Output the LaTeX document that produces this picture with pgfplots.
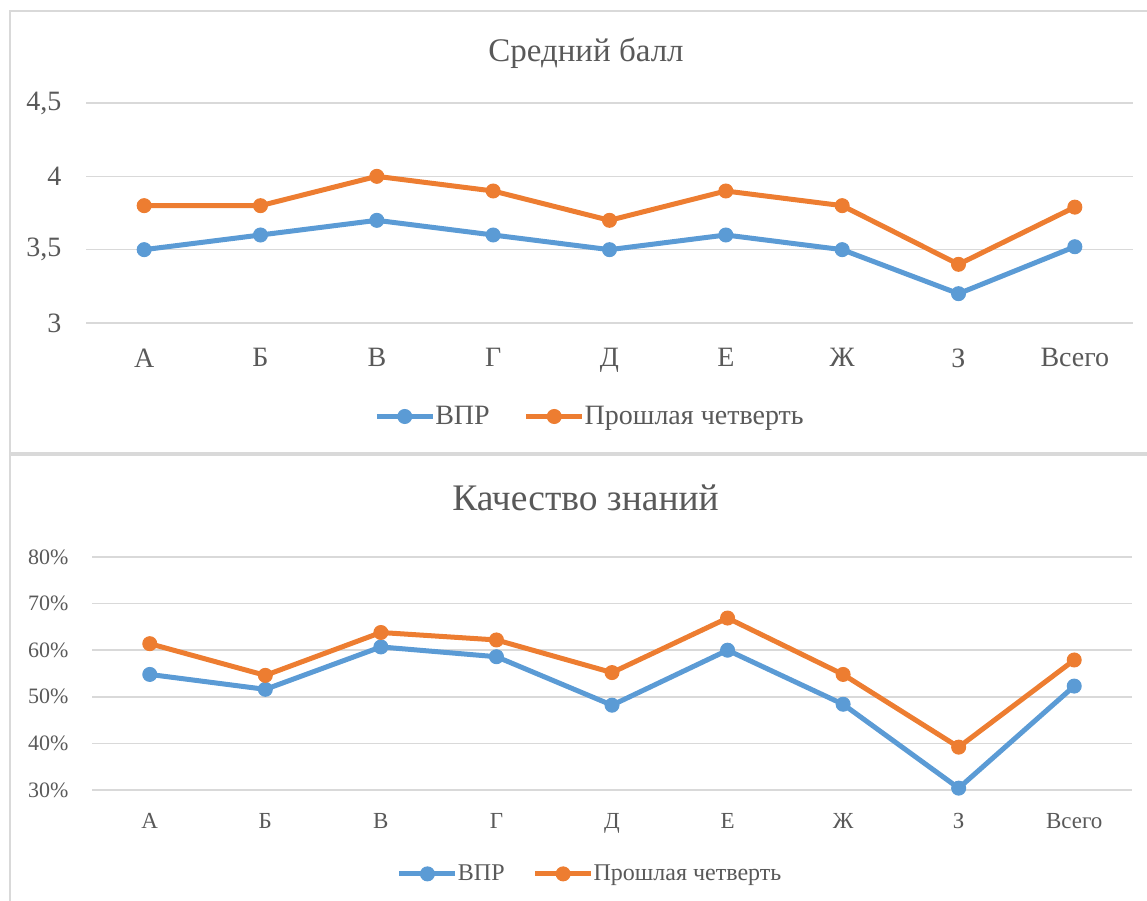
\documentclass[border=0pt]{standalone}
\usepackage{fontspec}
\setmainfont{Liberation Serif}
\usepackage{pgfplots}
\pgfplotsset{compat=1.18}
\definecolor{cblue}{HTML}{5B9BD5}
\definecolor{corange}{HTML}{ED7D31}
\definecolor{ctext}{HTML}{595959}
\definecolor{cgrid}{HTML}{D9D9D9}
\pgfplotsset{
 mystyle/.style={
  scale only axis,
  xmin=-0.5, xmax=8.5,
  xtick={0,...,8},
  xticklabels={А,Б,В,Г,Д,Е,Ж,З,Всего},
  axis line style={draw=none},
  major tick length=0pt,
  ymajorgrids, grid style={cgrid, line width=1.5pt},
  tick label style={text=ctext},
  /pgf/number format/assume math mode=true,
  clip=false,
  legend columns=2,
  legend style={draw=none, fill=none, text=ctext, anchor=center,
    nodes={inner sep=0pt}},
  legend image code/.code={\draw[mark repeat=2,mark phase=2] plot coordinates {(0pt,0pt)(28pt,0pt)(56pt,0pt)};},
 },
 sblue/.style={cblue, line width=5pt, mark=*, mark size=7pt, mark options={solid, line width=1pt}},
 sorange/.style={corange, line width=5pt, mark=*, mark size=7pt, mark options={solid, line width=1pt}},
}
\begin{document}
\begin{tikzpicture}[x=1pt,y=1pt]
\path[use as bounding box] (0,0) rectangle (1147,900);
\draw[cgrid, line width=2pt] (1160,889.3) -- (9.5,889.3) -- (9.5,447.3) -- (1160,447.3);
\draw[cgrid, line width=2pt] (1160,444.7) -- (9.5,444.7) -- (9.5,-10);
\node[text=ctext, font=\fontsize{33}{38}\selectfont, anchor=base, inner sep=0pt] at (586,838.5) {Средний балл};
\node[text=ctext, font=\fontsize{37.5}{42}\selectfont, anchor=base, inner sep=0pt] at (585.5,389.3) {Качество знаний};

\begin{axis}[mystyle,
  at={(86pt,577pt)}, anchor=south west,
  width=1047pt, height=220pt,
  ymin=3, ymax=4.5, ytick={3,3.5,4,4.5},
  /pgf/number format/use comma,
  tick label style={font=\fontsize{28}{32}\selectfont},
  yticklabel style={xshift=-21pt},
  xticklabel style={yshift=-22pt},
  legend style={at={(0.4804,-0.425)}, font=\fontsize{28}{32}\selectfont,
    /tikz/every even column/.append style={column sep=34pt}},
]
\addplot[sblue] coordinates {(0,3.5)(1,3.6)(2,3.7)(3,3.6)(4,3.5)(5,3.6)(6,3.5)(7,3.2)(8,3.52)};
\addplot[sorange] coordinates {(0,3.8)(1,3.8)(2,4.0)(3,3.9)(4,3.7)(5,3.9)(6,3.8)(7,3.4)(8,3.79)};
\legend{ВПР, Прошлая четверть}
\end{axis}

\begin{axis}[mystyle,
  at={(92pt,110pt)}, anchor=south west,
  width=1040pt, height=233pt,
  ymin=30, ymax=80, ytick={30,40,50,60,70,80},
  yticklabel={\pgfmathprintnumber{\tick}\%},
  tick label style={font=\fontsize{22}{26}\selectfont},
  yticklabel style={xshift=-20pt},
  xticklabel style={yshift=-20pt, font=\fontsize{23}{27}\selectfont},
  legend style={at={(0.478,-0.36)}, font=\fontsize{24}{28}\selectfont,
    /tikz/every even column/.append style={column sep=28pt}},
]
\addplot[sblue] coordinates {(0,54.8)(1,51.6)(2,60.7)(3,58.6)(4,48.2)(5,60.0)(6,48.4)(7,30.4)(8,52.3)};
\addplot[sorange] coordinates {(0,61.4)(1,54.6)(2,63.8)(3,62.2)(4,55.2)(5,66.9)(6,54.8)(7,39.2)(8,57.9)};
\legend{ВПР, Прошлая четверть}
\end{axis}
\end{tikzpicture}
\end{document}
